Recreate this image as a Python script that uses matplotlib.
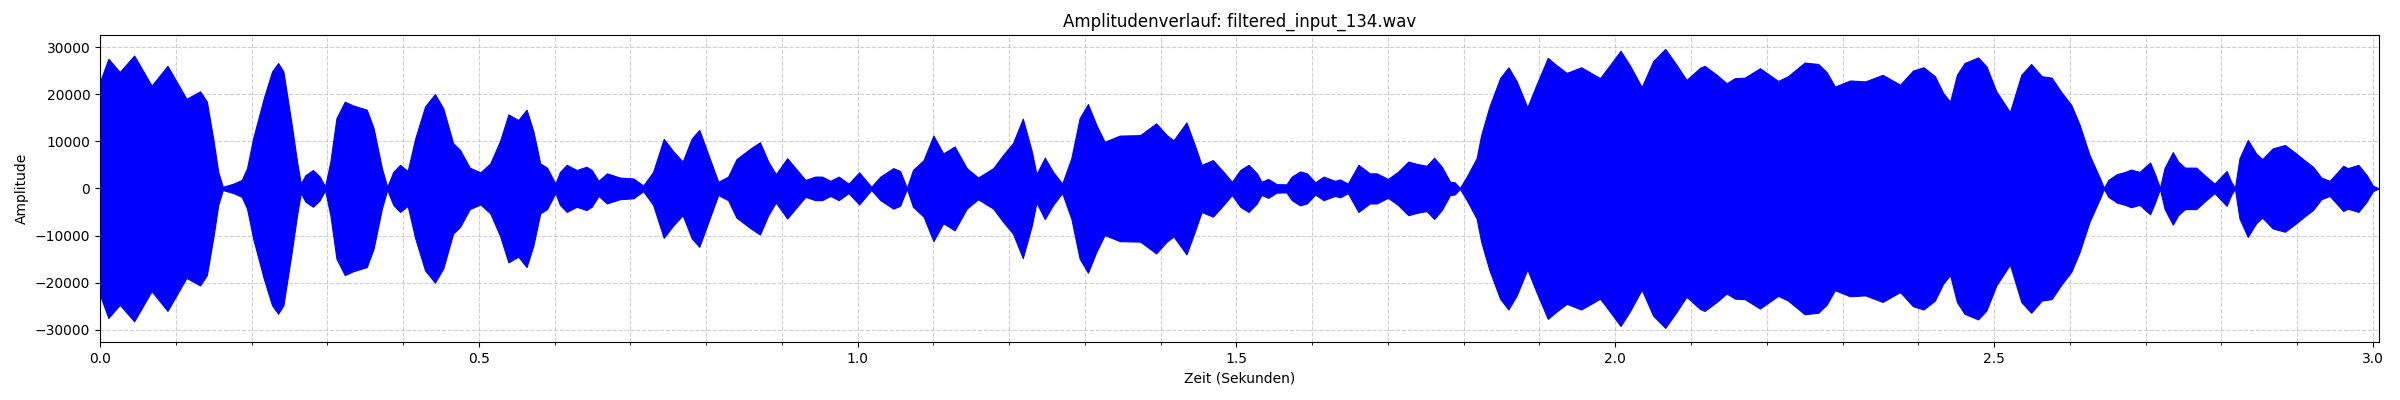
import numpy as np
import matplotlib.pyplot as plt
from matplotlib.ticker import MultipleLocator

# envelope of the waveform (seconds, amplitude)
zeit = [0.000, 0.011, 0.026, 0.045, 0.068, 0.089, 0.114, 0.132, 0.141, 0.150,
        0.156, 0.162, 0.176, 0.187, 0.194, 0.202, 0.216, 0.227, 0.235, 0.242,
        0.253, 0.260, 0.265, 0.271, 0.281, 0.290, 0.297, 0.304, 0.312, 0.323,
        0.334, 0.352, 0.361, 0.372, 0.379, 0.387, 0.396, 0.406, 0.416, 0.429,
        0.442, 0.453, 0.466, 0.475, 0.488, 0.502, 0.515, 0.528, 0.539, 0.552,
        0.563, 0.572, 0.581, 0.590, 0.601, 0.607, 0.616, 0.629, 0.642, 0.649,
        0.658, 0.669, 0.686, 0.704, 0.717, 0.730, 0.744, 0.757, 0.769, 0.781,
        0.791, 0.803, 0.816, 0.829, 0.840, 0.858, 0.871, 0.882, 0.892, 0.907,
        0.920, 0.931, 0.944, 0.953, 0.964, 0.975, 0.988, 1.002, 1.018, 1.030,
        1.047, 1.056, 1.065, 1.073, 1.087, 1.100, 1.113, 1.128, 1.144, 1.159,
        1.179, 1.192, 1.205, 1.218, 1.230, 1.236, 1.247, 1.258, 1.270, 1.282,
        1.293, 1.304, 1.315, 1.326, 1.346, 1.373, 1.394, 1.408, 1.417, 1.434,
        1.445, 1.454, 1.469, 1.483, 1.494, 1.505, 1.516, 1.527, 1.533, 1.542,
        1.553, 1.566, 1.573, 1.584, 1.593, 1.604, 1.615, 1.630, 1.637, 1.647,
        1.661, 1.676, 1.685, 1.700, 1.713, 1.727, 1.738, 1.751, 1.761, 1.771,
        1.782, 1.788, 1.795, 1.804, 1.817, 1.823, 1.834, 1.848, 1.859, 1.870,
        1.884, 1.896, 1.911, 1.922, 1.936, 1.955, 1.966, 1.980, 1.995, 2.007,
        2.019, 2.035, 2.050, 2.066, 2.081, 2.094, 2.112, 2.118, 2.134, 2.147,
        2.158, 2.171, 2.191, 2.215, 2.228, 2.250, 2.268, 2.279, 2.290, 2.310,
        2.330, 2.353, 2.376, 2.393, 2.407, 2.422, 2.433, 2.442, 2.451, 2.461,
        2.479, 2.490, 2.503, 2.521, 2.536, 2.549, 2.563, 2.576, 2.589, 2.602,
        2.613, 2.626, 2.640, 2.645, 2.651, 2.662, 2.673, 2.681, 2.692, 2.706,
        2.713, 2.719, 2.725, 2.736, 2.743, 2.752, 2.767, 2.780, 2.791, 2.807,
        2.813, 2.818, 2.824, 2.835, 2.846, 2.854, 2.868, 2.884, 2.899, 2.908,
        2.921, 2.932, 2.943, 2.961, 2.967, 2.981, 2.992, 3.000, 3.008]

huelle = [22700, 27500, 24700, 28200, 21800, 26000, 19000, 20600, 18400, 9900,
          3500, 350, 1000, 1800, 4300, 10600, 19100, 24800, 26600, 24800,
          13500, 5700, 1000, 2800, 3900, 2500, 400, 5700, 14900, 18400,
          17600, 16700, 12800, 4300, 300, 3500, 5000, 3700, 10600, 17400,
          20000, 17000, 9600, 8200, 4400, 3400, 5300, 10100, 15700, 14500,
          16700, 12100, 5300, 4400, 1000, 3500, 5000, 3900, 4600, 3900,
          1600, 3200, 2300, 2100, 600, 3500, 10500, 7800, 5700, 10600,
          12400, 7100, 1400, 2500, 6200, 8400, 9800, 5700, 3000, 6400,
          3900, 1800, 2500, 2500, 1600, 2500, 1000, 3400, 350, 2500,
          4300, 3700, 100, 3900, 6000, 11200, 7400, 8900, 4300, 2300,
          4300, 7100, 9600, 14800, 7800, 3000, 6500, 3500, 1000, 6400,
          14900, 17900, 13500, 9900, 11200, 11300, 13800, 11300, 10200, 14000,
          9200, 5000, 6000, 3500, 1400, 3900, 5000, 3200, 1400, 2000,
          900, 850, 2500, 3600, 3200, 1300, 2500, 1600, 1900, 1000,
          5000, 3200, 3200, 2000, 3500, 5700, 5200, 4800, 6500, 4600,
          1400, 1300, 100, 2500, 6400, 11300, 17400, 23400, 25700, 22700,
          17200, 22000, 27700, 26200, 24500, 25700, 24700, 23400, 26600, 29200,
          26200, 21500, 27000, 29600, 26200, 23000, 25600, 26000, 24100, 22300,
          23400, 23500, 25500, 22800, 23800, 26700, 26400, 24700, 21600, 22900,
          22700, 24100, 22000, 25000, 25700, 23800, 20200, 18400, 24100, 26600,
          27800, 25900, 20600, 16200, 24100, 26400, 23800, 23500, 20400, 17700,
          13500, 7100, 2100, 100, 1800, 3000, 3500, 4000, 3500, 5500,
          2800, 100, 4300, 7700, 5700, 4400, 4400, 2500, 1000, 3700,
          1400, 100, 6400, 10300, 7400, 6200, 8500, 9200, 7400, 6200,
          4600, 2300, 1600, 4800, 4300, 5000, 2800, 600, 0]

titel = 'Amplitudenverlauf: filtered_input_134.wav'

t = np.array(zeit)
a = np.array(huelle)

fig, ax = plt.subplots(figsize=(24, 4), dpi=100)
ax.fill_between(t, -a, a, color='blue', linewidth=0.8, edgecolor='blue')
ax.set_title(titel)
ax.set_xlabel('Zeit (Sekunden)')
ax.set_ylabel('Amplitude')
ax.set_xlim(0, 3.008)
ax.set_ylim(-32600, 32550)
ax.xaxis.set_major_locator(MultipleLocator(0.5))
ax.xaxis.set_minor_locator(MultipleLocator(0.1))
ax.yaxis.set_major_locator(MultipleLocator(10000))
ax.grid(True, which='both', linestyle='--', alpha=0.6)
ax.set_axisbelow(True)
fig.subplots_adjust(left=0.0417, right=0.9912, bottom=0.145, top=0.9125)
fig.savefig('out.png')
